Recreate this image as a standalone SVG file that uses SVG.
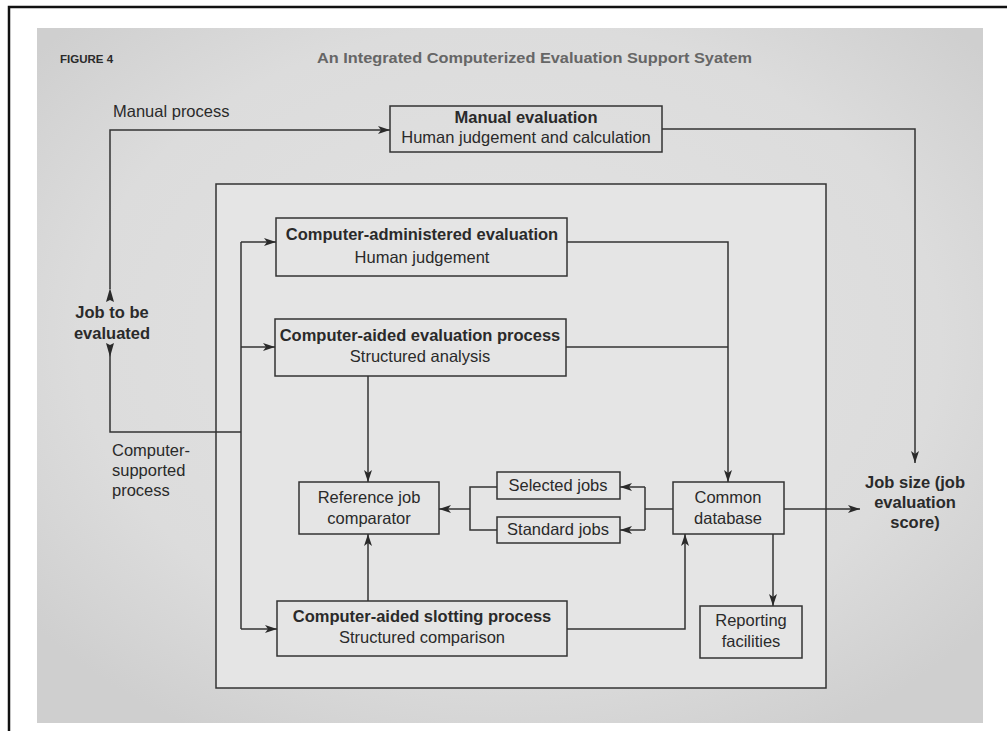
<svg xmlns="http://www.w3.org/2000/svg" width="1007" height="731" viewBox="0 0 1007 731">
<defs>
<radialGradient id="bg" cx="0.5" cy="0.45" r="0.65">
<stop offset="0" stop-color="#e3e3e3"/>
<stop offset="0.7" stop-color="#dcdcdc"/>
<stop offset="1" stop-color="#cfcfcf"/>
</radialGradient>
<marker id="ah" viewBox="0 0 12 8" refX="12" refY="4" markerWidth="12" markerHeight="8" markerUnits="userSpaceOnUse" orient="auto">
<path d="M0,0 L12,4 L0,8 L3,4 z" fill="#2a2a2a"/>
</marker>
<style>
.t{font-family:"Liberation Sans",Arial,sans-serif;fill:#2a2a2a;font-size:16.5px}
.b{font-weight:bold}
.c{text-anchor:middle}
.box{fill:none;stroke:#333;stroke-width:1.5}
.ln{fill:none;stroke:#333;stroke-width:1.5}
.ar{marker-end:url(#ah)}
</style>
</defs>
<rect x="0" y="0" width="1007" height="731" fill="#fff"/>
<path d="M9,731 V7 H1007" fill="none" stroke="#111" stroke-width="2.5"/>
<rect x="37" y="28" width="946" height="695" fill="url(#bg)"/>
<rect x="216" y="184" width="610" height="504" fill="#e5e5e5" stroke="#333" stroke-width="1.5"/>
<text x="60" y="63" class="t b" style="font-size:11.5px">FIGURE 4</text>
<text x="317" y="63" class="t b" style="font-size:14px;fill:#666" textLength="435" lengthAdjust="spacingAndGlyphs">An Integrated Computerized Evaluation Support Syatem</text>
<text x="113" y="117" class="t">Manual process</text>
<g id="job">
<text x="112" y="318" class="t b c">Job to be</text>
<text x="112" y="339" class="t b c">evaluated</text>
</g>
<g id="computer-supported">
<text x="112" y="456" class="t">Computer-</text>
<text x="112" y="476" class="t">supported</text>
<text x="112" y="496" class="t">process</text>
</g>
<g id="manual-eval">
<rect x="390" y="106" width="272" height="46" class="box"/>
<text x="526" y="123" class="t b c">Manual evaluation</text>
<text x="526" y="143" class="t c">Human judgement and calculation</text>
</g>
<g id="ca-admin">
<rect x="276" y="218" width="291" height="58" class="box"/>
<text x="422" y="240" class="t b c">Computer-administered evaluation</text>
<text x="422" y="263" class="t c">Human judgement</text>
</g>
<g id="ca-eval">
<rect x="275" y="319" width="291" height="57" class="box"/>
<text x="420" y="341" class="t b c">Computer-aided evaluation process</text>
<text x="420" y="362" class="t c">Structured analysis</text>
</g>
<g id="ref-comp">
<rect x="299" y="482" width="140" height="52" class="box"/>
<text x="369" y="503" class="t c">Reference job</text>
<text x="369" y="524" class="t c">comparator</text>
</g>
<g id="selected">
<rect x="497" y="472" width="123" height="27" class="box"/>
<text x="558" y="491" class="t c">Selected jobs</text>
</g>
<g id="standard">
<rect x="497" y="517" width="123" height="26" class="box"/>
<text x="558" y="535" class="t c">Standard jobs</text>
</g>
<g id="common-db">
<rect x="673" y="482" width="111" height="52" class="box"/>
<text x="728" y="503" class="t c">Common</text>
<text x="728" y="524" class="t c">database</text>
</g>
<g id="reporting">
<rect x="700" y="606" width="102" height="52" class="box"/>
<text x="751" y="626" class="t c">Reporting</text>
<text x="751" y="647" class="t c">facilities</text>
</g>
<g id="slotting">
<rect x="277" y="601" width="290" height="55" class="box"/>
<text x="422" y="622" class="t b c">Computer-aided slotting process</text>
<text x="422" y="643" class="t c">Structured comparison</text>
</g>
<g id="job-size">
<text x="915" y="488" class="t b c">Job size (job</text>
<text x="915" y="508" class="t b c">evaluation</text>
<text x="915" y="528" class="t b c">score)</text>
</g>
<g id="connectors">
<path d="M110,289 V130 H390" class="ln ar"/>
<path d="M110,300 L106,302 L110,288 L114,302 z" fill="#2a2a2a"/>
<path d="M110,345 V432 H241" class="ln"/>
<path d="M110,357 L106,343 L110,345 L114,343 z" fill="#2a2a2a"/>
<path d="M662,129 H915 V463" class="ln ar"/>
<path d="M241,242 V629" class="ln"/>
<path d="M241,242 H276" class="ln ar"/>
<path d="M241,347 H275" class="ln ar"/>
<path d="M241,629 H277" class="ln ar"/>
<path d="M567,242 H728 V482" class="ln ar"/>
<path d="M566,347 H728" class="ln"/>
<path d="M368,376 V482" class="ln ar"/>
<path d="M368,601 V534" class="ln ar"/>
<path d="M497,487 H470 V530 H497" class="ln"/>
<path d="M470,509 H439" class="ln ar"/>
<path d="M673,509 H645" class="ln"/>
<path d="M645,487 V530" class="ln"/>
<path d="M645,487 H620" class="ln ar"/>
<path d="M645,530 H620" class="ln ar"/>
<path d="M784,509 H860" class="ln ar"/>
<path d="M773,534 V606" class="ln ar"/>
<path d="M567,629 H685 V534" class="ln ar"/>
</g>
</svg>
